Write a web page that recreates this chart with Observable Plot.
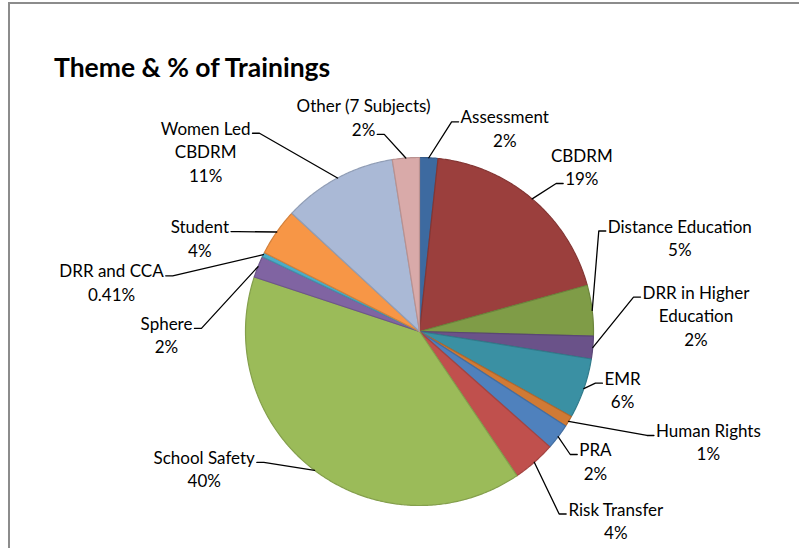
<!DOCTYPE html>
<html><head><meta charset="utf-8">
<script src="https://cdn.jsdelivr.net/npm/d3@7"></script>
<script src="https://cdn.jsdelivr.net/npm/@observablehq/plot@0.6"></script>
<style>
html,body{margin:0;padding:0;background:#fff;}
#wrap{position:relative;width:799px;height:548px;overflow:hidden;}
#frame{position:absolute;left:8px;top:2px;right:-10px;bottom:-10px;border-top:2px solid #8c8c8c;border-left:2px solid #8c8c8c;}
#title{position:absolute;left:54px;top:51px;font:bold 26.5px Lato,sans-serif;color:#000;white-space:nowrap;}
#chart{position:absolute;left:0;top:0;}
</style></head><body>
<div id="wrap"><div id="frame"></div><div id="chart"></div><div id="title"></div></div>
<script>
// ---- data ----
const titleText = "Theme & % of Trainings";
const themes = ["Assessment","CBDRM","Distance Education","DRR in Higher Education","EMR","Human Rights","PRA","Risk Transfer","School Safety","Sphere","DRR and CCA","Student","Women Led CBDRM","Other (7 Subjects)"];
const shares = [1.7, 19.0, 4.7, 2.1, 5.6, 1.0, 2.4, 4.0, 39.5, 2.0, 0.41, 4.4, 10.6, 2.5];
const labelNames = ["Assessment","CBDRM","Distance Education","DRR in Higher\nEducation","EMR","Human Rights","PRA","Risk Transfer","School Safety","Sphere","DRR and CCA","Student","Women Led\nCBDRM","Other (7 Subjects)"];
const percentLabels = ["2%","19%","5%","2%","6%","1%","2%","4%","40%","2%","0.41%","4%","11%","2%"];

// ---- styles & layout ----
const colors = ["#3D6AA0","#9B3F3D","#7F9C47","#6A5289","#3A90A3","#D07A35","#4F81BD","#C0504D","#9BBB59","#8064A2","#4BACC6","#F79646","#AAB9D6","#D9AAA9"];
const W = 799, H = 548, cx = 419, cy = 331, R = 174;
const fontSize = 17, lineStep = 23.5, fontFamily = "Lato, sans-serif";
// label block centres, polar around the pie centre (degrees clockwise from 12 o'clock, px)
const labelAngle = [22.7, 44.4, 70.0, 86.5, 105.8, 110.8, 126.2, 133.8, 237.6, 269.4, 279.2, 293.2, 310.2, 345.4];
const labelDist  = [221, 232, 277, 277, 211, 309, 218, 272, 255, 253, 312, 239, 280, 222];
const leaderLine = [0, 1, 0, 0, 0, 0, 0, 0, 0, 0, 0, 0, 0, 1];

document.getElementById("title").textContent = titleText;

const rad = d => d * Math.PI / 180;
const polar = (deg, r) => [cx + r * Math.sin(rad(deg)), cy - r * Math.cos(rad(deg))];

const total = d3.sum(shares);
let acc = 0;
const slices = themes.map((name, i) => {
  const a0 = acc / total * 360; acc += shares[i]; const a1 = acc / total * 360;
  return {name, i, a0, a1, mid: (a0 + a1) / 2};
});

// slice outlines sampled along the arc
const slicePts = [];
for (const s of slices) {
  const fill = colors[s.i];
  const stroke = d3.color(fill).darker(0.45).formatHex();
  const push = (x, y) => slicePts.push({name: s.name, x, y, fill, stroke});
  push(cx, cy);
  const n = Math.max(2, Math.ceil((s.a1 - s.a0) / 0.5));
  for (let k = 0; k <= n; k++) { const [x, y] = polar(s.a0 + (s.a1 - s.a0) * k / n, R); push(x, y); }
}

// labels
const ctx = document.createElement("canvas").getContext("2d");
ctx.font = `${fontSize}px ${fontFamily}`;
const labels = slices.map(s => {
  const text = labelNames[s.i] + "\n" + percentLabels[s.i];
  const [lx, ly] = polar(labelAngle[s.i], labelDist[s.i]);
  return {name: s.name, text, lx, ly};
});
const leaderPts = [];
labels.forEach((l, i) => {
  const lines = l.text.split("\n");
  const k = leaderLine[i];
  const [ex, ey] = polar(slices[i].mid, R);
  const w = ctx.measureText(lines[k]).width;
  const yLine = l.ly + (k - (lines.length - 1) / 2) * lineStep + 6;
  const right = ex > l.lx;
  const ax = right ? l.lx + w / 2 + 2 : l.lx - w / 2 - 2;
  const bx = right ? ax + 7 : ax - 7;
  leaderPts.push({name: l.name, x: ex, y: ey}, {name: l.name, x: bx, y: yLine}, {name: l.name, x: ax, y: yLine});
});

const chart = Plot.plot({
  width: W, height: H, margin: 0,
  x: {domain: [0, W], range: [0, W], axis: null},
  y: {domain: [0, H], range: [0, H], axis: null},
  color: {type: "identity"},
  style: {background: "transparent", fontFamily},
  marks: [
    Plot.line(slicePts, {x: "x", y: "y", z: "name", fill: "fill", stroke: "stroke", strokeWidth: 1.2, curve: "linear-closed"}),
    Plot.line(leaderPts, {x: "x", y: "y", z: "name", stroke: "#000", strokeWidth: 1.3}),
    Plot.text(labels, {x: "lx", y: "ly", text: "text", fontSize, lineHeight: lineStep / fontSize, textAnchor: "middle", lineAnchor: "middle", fill: "#000"})
  ]
});
document.getElementById("chart").appendChild(chart);
</script>
</body></html>
